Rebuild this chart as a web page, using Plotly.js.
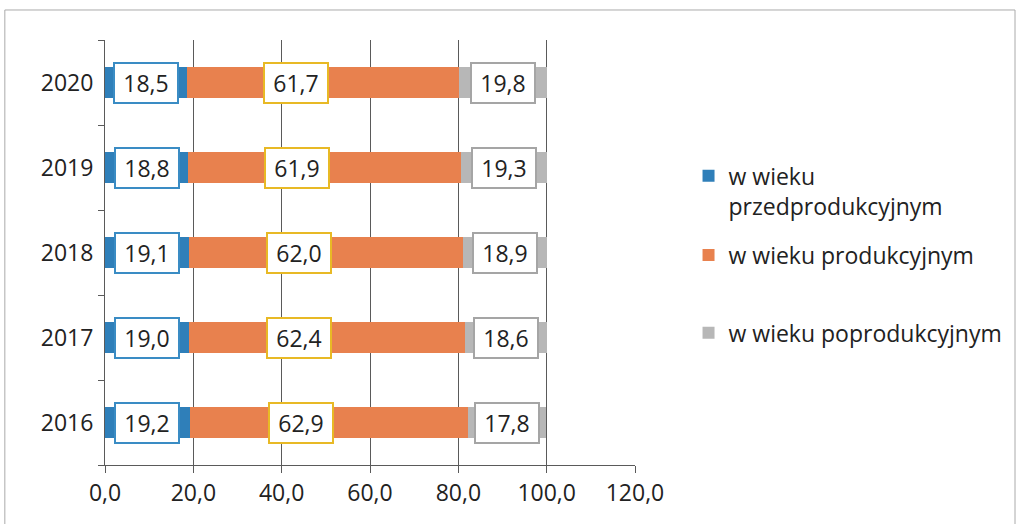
<!DOCTYPE html>
<html>
<head>
<meta charset="utf-8">
<script src="https://cdn.plot.ly/plotly-3.0.1.min.js"></script>
<style>html,body{margin:0;padding:0;background:#fff;}#chart{width:1018px;height:524px;}</style>
</head>
<body>
<div id="chart"></div>
<script>
var years = ['2016', '2017', '2018', '2019', '2020'];
var przed = [19.2, 19.0, 19.1, 18.8, 18.5];
var prod = [62.9, 62.4, 62.0, 61.9, 61.7];
var poprod = [17.8, 18.6, 18.9, 19.3, 19.8];
var seriesNames = ['w wieku<br>przedprodukcyjnym', 'w wieku produkcyjnym', 'w wieku poprodukcyjnym'];
var xTicks = [0, 20, 40, 60, 80, 100, 120];

var FONT = 'Open Sans, Noto Sans, sans-serif';
var FS = 23;
var colors = ['#2f7fb9', '#e8814e', '#b7b7b7'];
var labelBorders = ['#3a8cc4', '#e8b925', '#a5a5a5'];
var legendIds = ['legend', 'legend2', 'legend3'];

function fmt(v) { return v.toFixed(1).replace('.', ','); }

var series = [przed, prod, poprod];
var traces = series.map(function (vals, i) {
  return {
    type: 'bar', orientation: 'h', x: vals, y: years, name: seriesNames[i],
    legend: legendIds[i], showlegend: true,
    marker: {color: colors[i]}
  };
});

var annotations = [];
years.forEach(function (yr, k) {
  var a = przed[k], b = prod[k], c = poprod[k];
  var xs = [a / 2, a + 0.4 * b, a + b + c / 2];
  var vs = [a, b, c];
  for (var i = 0; i < 3; i++) {
    annotations.push({
      x: xs[i], y: k, xref: 'x', yref: 'y', text: fmt(vs[i]), showarrow: false,
      font: {family: FONT, size: FS, color: '#222'},
      bgcolor: '#ffffff', bordercolor: labelBorders[i], borderwidth: 2, borderpad: 2,
      width: 58, height: 34
    });
  }
});

function legendCfg(y) {
  return {
    x: 1.101, y: y, xanchor: 'left', yanchor: 'middle', valign: 'top',
    font: {family: FONT, size: FS, color: '#222'},
    bgcolor: 'rgba(0,0,0,0)', borderwidth: 0
  };
}

var layout = {
  width: 1018, height: 524,
  margin: {l: 105, r: 383, t: 40, b: 59, autoexpand: false},
  showlegend: true,
  paper_bgcolor: '#fff', plot_bgcolor: '#fff',
  separators: ', ',
  barmode: 'stack', bargap: 0.64,
  font: {family: FONT, size: FS, color: '#222'},
  xaxis: {
    range: [0, 120], tickvals: xTicks, tickformat: '.1f',
    showgrid: true, gridcolor: '#5a5a5a', gridwidth: 1,
    showline: true, linecolor: '#5a5a5a', linewidth: 1,
    ticks: 'outside', ticklen: 7, tickcolor: '#5a5a5a',
    zeroline: false, fixedrange: true,
    tickfont: {family: FONT, size: FS, color: '#222'}
  },
  yaxis: {
    type: 'category', range: [-0.5, 4.5], autorange: false,
    showgrid: false, showline: true, linecolor: '#5a5a5a', linewidth: 1,
    ticks: 'outside', tickson: 'boundaries', ticklen: 6, tickcolor: '#5a5a5a',
    ticklabelstandoff: 6,
    tickfont: {family: FONT, size: FS, color: '#222'}, fixedrange: true
  },
  legend: legendCfg(0.645),
  legend2: legendCfg(0.494),
  legend3: legendCfg(0.311),
  annotations: annotations,
  shapes: [{
    type: 'rect', xref: 'paper', yref: 'paper',
    x0: -0.189, x1: 1.717, y0: -0.2, y1: 1.0706,
    line: {color: '#aaa', width: 1}, layer: 'below'
  }]
};

Plotly.newPlot('chart', traces, layout, {displayModeBar: false, staticPlot: true});
</script>
</body>
</html>
